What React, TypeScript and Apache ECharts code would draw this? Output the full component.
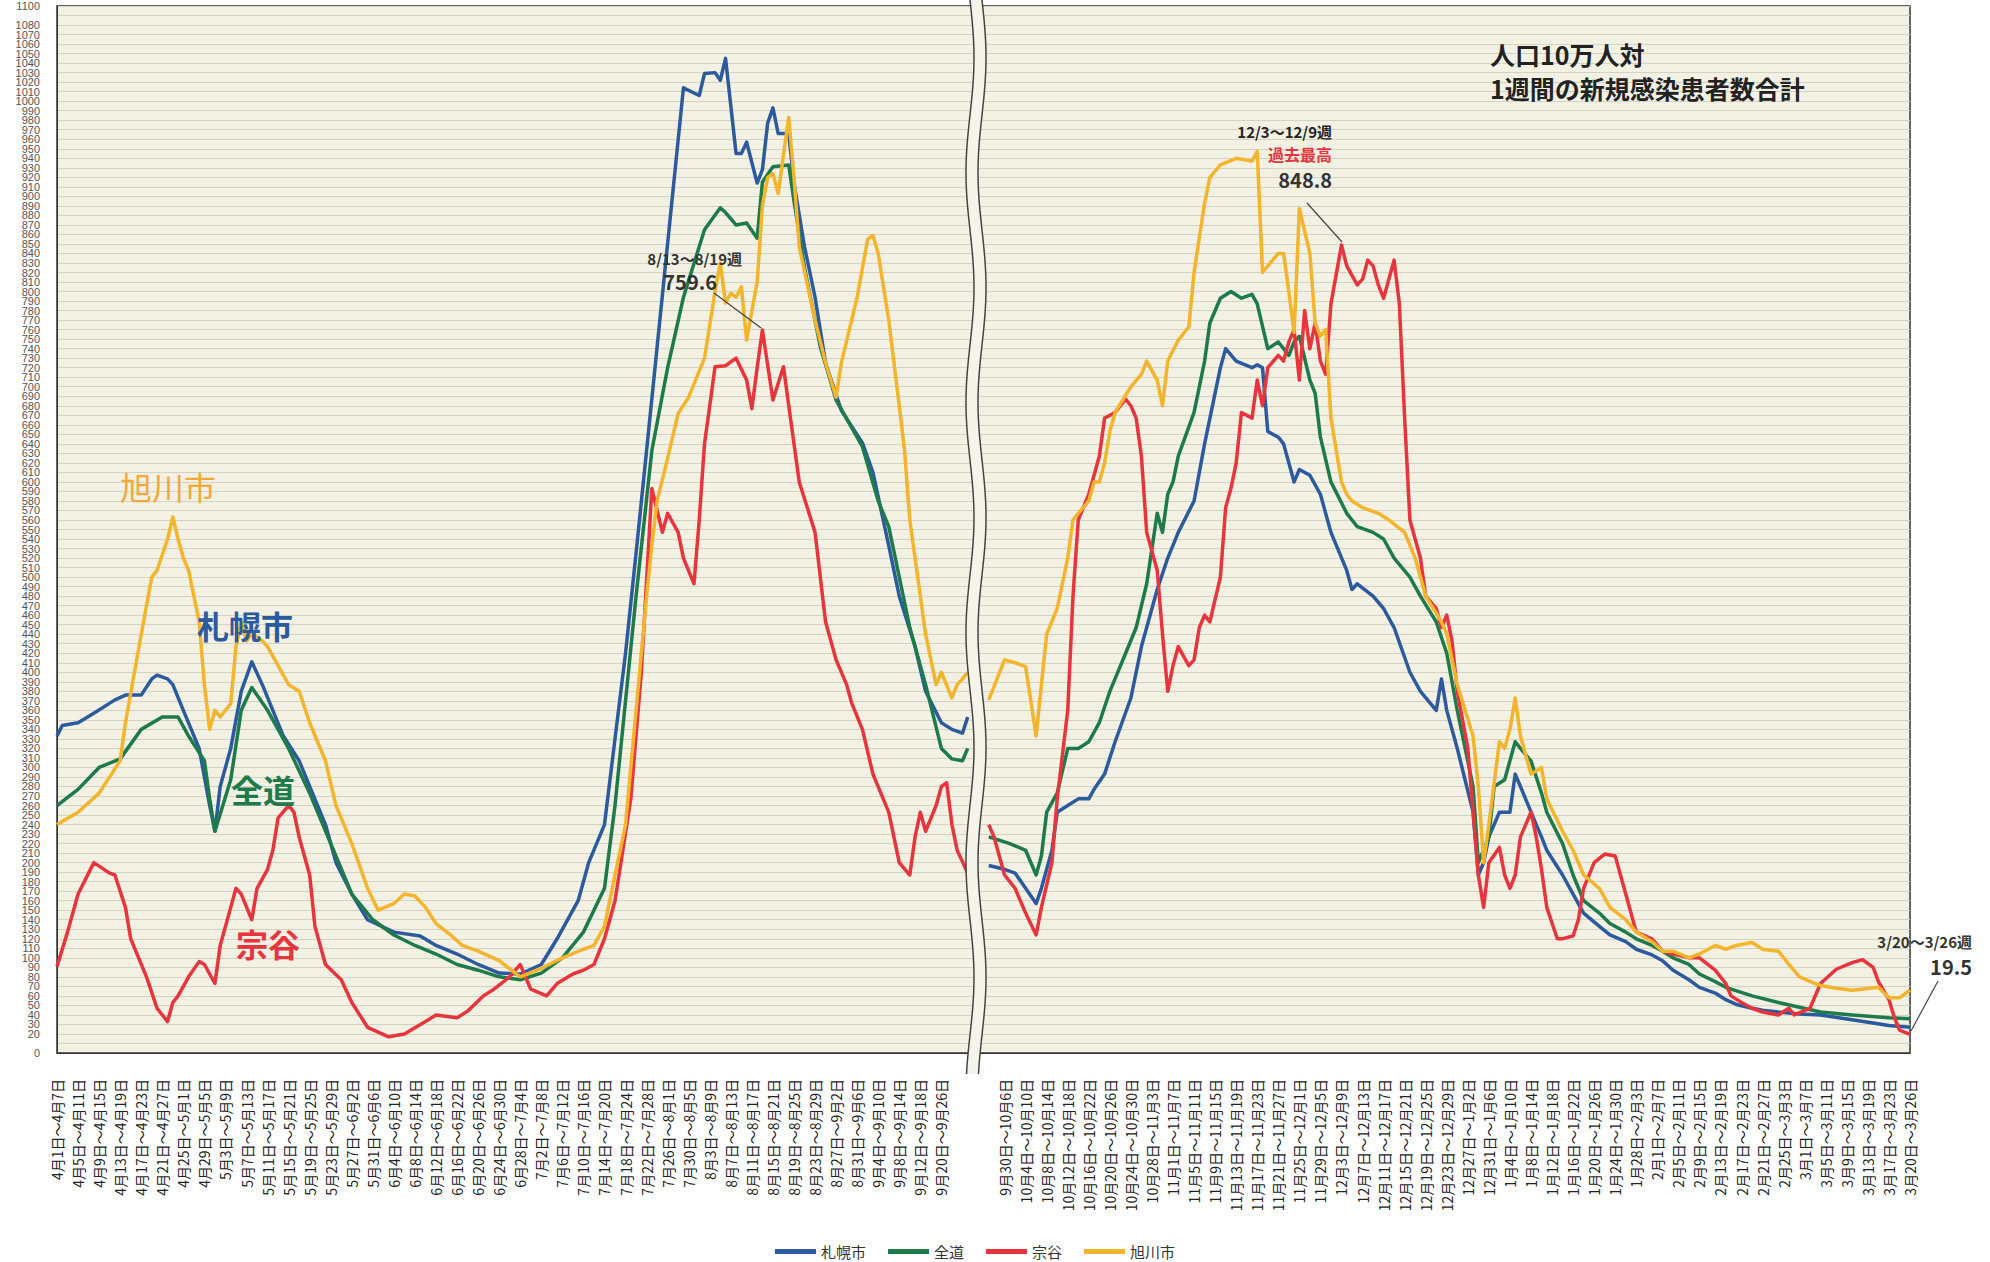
import React, { useEffect, useRef } from "react";
import * as echarts from "echarts";

// Tick labels (weekly windows, one label every 4 categories)
const labelsA = [
  "4月1日～4月7日", "4月5日～4月11日", "4月9日～4月15日", "4月13日～4月19日", "4月17日～4月23日",
  "4月21日～4月27日", "4月25日～5月1日", "4月29日～5月5日", "5月3日～5月9日", "5月7日～5月13日",
  "5月11日～5月17日", "5月15日～5月21日", "5月19日～5月25日", "5月23日～5月29日", "5月27日～6月2日",
  "5月31日～6月6日", "6月4日～6月10日", "6月8日～6月14日", "6月12日～6月18日", "6月16日～6月22日",
  "6月20日～6月26日", "6月24日～6月30日", "6月28日～7月4日", "7月2日～7月8日", "7月6日～7月12日",
  "7月10日～7月16日", "7月14日～7月20日", "7月18日～7月24日", "7月22日～7月28日", "7月26日～8月1日",
  "7月30日～8月5日", "8月3日～8月9日", "8月7日～8月13日", "8月11日～8月17日", "8月15日～8月21日",
  "8月19日～8月25日", "8月23日～8月29日", "8月27日～9月2日", "8月31日～9月6日", "9月4日～9月10日",
  "9月8日～9月14日", "9月12日～9月18日", "9月20日～9月26日",
];
const labelsB = [
  "9月30日～10月6日", "10月4日～10月10日", "10月8日～10月14日", "10月12日～10月18日", "10月16日～10月22日",
  "10月20日～10月26日", "10月24日～10月30日", "10月28日～11月3日", "11月1日～11月7日", "11月5日～11月11日",
  "11月9日～11月15日", "11月13日～11月19日", "11月17日～11月23日", "11月21日～11月27日", "11月25日～12月1日",
  "11月29日～12月5日", "12月3日～12月9日", "12月7日～12月13日", "12月11日～12月17日", "12月15日～12月21日",
  "12月19日～12月25日", "12月23日～12月29日", "12月27日～1月2日", "12月31日～1月6日", "1月4日～1月10日",
  "1月8日～1月14日", "1月12日～1月18日", "1月16日～1月22日", "1月20日～1月26日", "1月24日～1月30日",
  "1月28日～2月3日", "2月1日～2月7日", "2月5日～2月11日", "2月9日～2月15日", "2月13日～2月19日",
  "2月17日～2月23日", "2月21日～2月27日", "2月25日～3月3日", "3月1日～3月7日", "3月5日～3月11日",
  "3月9日～3月15日", "3月13日～3月19日", "3月17日～3月23日", "3月20日～3月26日",
];
const GAP_SLOTS = 2; // unlabeled label-slots at the axis break

const seriesNames = ["札幌市", "全道", "宗谷", "旭川市"];
const seriesColors = ["#2c5a9e", "#1d7a4b", "#e8353d", "#f4b42c"];

// [category index, value] — first period (before the break)
const sapporoA = [
  [0, 333], [1, 344], [4, 347], [7, 357], [11, 371], [13, 376], [16, 376], [18, 393], [19, 397], [21, 393], [22, 387],
  [24, 360], [27, 320], [29, 260], [30, 233], [31, 280], [33, 320], [35, 380], [37, 411], [39, 387], [41, 360],
  [43, 333], [46, 307], [48, 280], [51, 240], [53, 200], [56, 167], [59, 140], [64, 127], [69, 123], [72, 113],
  [76, 104], [80, 93], [84, 84], [88, 83], [92, 93], [95, 120], [99, 160], [101, 200], [104, 240], [106, 330],
  [108, 420], [110, 525], [112, 633], [119, 1014], [122, 1006], [123, 1029], [125, 1030], [126, 1022], [127, 1045],
  [129, 945], [130, 945], [131, 957], [133, 914], [134, 928], [135, 977], [136, 993], [137, 966], [139, 966],
  [140, 914], [142, 847], [144, 794], [146, 725], [149, 675], [153, 641], [155, 610], [158, 533], [160, 480],
  [163, 427], [165, 380], [168, 347], [170, 340], [172, 336], [173, 353],
];
const zendoA = [
  [0, 260], [4, 277], [8, 300], [12, 309], [16, 340], [20, 353], [23, 353], [25, 333], [28, 307], [29, 267], [30, 233],
  [33, 287], [35, 360], [37, 384], [40, 360], [44, 320], [48, 273], [52, 220], [56, 167], [60, 140], [64, 124],
  [68, 113], [72, 104], [76, 93], [80, 87], [84, 80], [88, 77], [92, 84], [96, 100], [100, 127], [104, 173],
  [106, 260], [108, 370], [110, 480], [113, 633], [116, 720], [119, 794], [123, 865], [126, 888], [127, 883],
  [129, 870], [131, 872], [133, 856], [134, 915], [136, 931], [139, 933], [140, 895], [142, 825], [145, 742],
  [148, 686], [153, 637], [156, 580], [158, 553], [160, 500], [162, 447], [165, 387], [168, 320], [170, 309],
  [172, 307], [173, 320],
];
const soyaA = [
  [0, 91], [2, 127], [4, 167], [6, 189], [7, 200], [10, 189], [11, 187], [13, 153], [14, 120], [17, 80], [19, 47],
  [21, 33], [22, 53], [23, 60], [25, 80], [27, 96], [28, 93], [30, 73], [31, 113], [33, 153], [34, 173], [35, 167],
  [37, 140], [38, 173], [40, 193], [41, 213], [42, 247], [44, 260], [45, 253], [46, 227], [48, 187], [49, 133],
  [51, 93], [54, 77], [56, 53], [59, 27], [63, 17], [66, 20], [70, 33], [72, 40], [76, 37], [78, 44], [81, 60],
  [83, 67], [86, 80], [88, 93], [90, 67], [93, 60], [95, 73], [98, 83], [100, 87], [102, 93], [104, 120], [106, 160],
  [109, 267], [111, 400], [113, 593], [115, 547], [116, 567], [118, 547], [119, 520], [121, 493], [122, 560],
  [123, 640], [124, 680], [125, 721], [127, 722], [129, 730], [131, 707], [132, 677], [133, 720], [134, 759.6],
  [136, 686], [138, 721], [140, 640], [141, 600], [144, 547], [146, 453], [148, 413], [150, 387], [151, 367],
  [153, 340], [155, 293], [158, 253], [160, 200], [162, 187], [163, 227], [164, 253], [165, 233], [167, 260],
  [168, 280], [169, 284], [170, 240], [171, 213], [173, 189],
];
const asahikawaA = [
  [0, 240], [4, 253], [8, 273], [12, 307], [13, 347], [16, 440], [18, 500], [19, 507], [21, 540], [22, 563], [23, 540],
  [24, 520], [25, 507], [27, 453], [28, 387], [29, 340], [30, 360], [31, 353], [33, 367], [34, 427], [35, 453],
  [36, 433], [37, 440], [39, 433], [40, 427], [42, 407], [44, 387], [46, 380], [48, 347], [51, 307], [53, 260],
  [56, 220], [59, 173], [61, 150], [64, 157], [66, 167], [68, 165], [70, 153], [72, 136], [75, 123], [77, 113],
  [80, 107], [84, 97], [88, 80], [92, 89], [96, 100], [100, 109], [102, 113], [104, 133], [106, 187], [108, 240],
  [110, 360], [112, 480], [113, 533], [114, 580], [116, 625], [118, 672], [120, 689], [123, 730], [125, 800],
  [126, 830], [127, 788], [128, 798], [129, 794], [130, 805], [131, 749], [133, 810], [134, 890], [135, 920],
  [136, 924], [137, 903], [139, 983], [140, 920], [141, 847], [144, 770], [146, 725], [148, 689], [149, 725],
  [152, 794], [154, 855], [155, 859], [156, 840], [158, 770], [160, 680], [161, 633], [162, 560], [165, 440],
  [167, 387], [168, 400], [170, 373], [171, 387], [172, 393], [173, 400],
];

// second period (after the break)
const sapporoB = [
  [177, 197], [180, 193], [182, 189], [184, 173], [186, 157], [187, 173], [189, 213], [190, 253], [192, 260],
  [194, 267], [196, 267], [197, 277], [199, 293], [201, 327], [204, 373], [206, 427], [209, 487], [211, 520],
  [213, 547], [216, 580], [218, 640], [221, 720], [222, 740], [224, 727], [227, 720], [228, 723], [229, 720],
  [230, 653], [232, 647], [233, 640], [234, 620], [235, 600], [236, 613], [238, 607], [240, 587], [242, 547],
  [245, 507], [246, 487], [247, 493], [250, 480], [252, 467], [254, 447], [257, 400], [259, 380], [262, 360],
  [263, 393], [264, 360], [266, 320], [269, 253], [270, 187], [271, 200], [272, 227], [274, 253], [276, 253],
  [277, 293], [278, 280], [281, 240], [282, 227], [283, 213], [286, 187], [288, 167], [290, 147], [293, 133],
  [295, 124], [298, 117], [300, 109], [303, 103], [305, 97], [307, 87], [310, 77], [312, 69], [315, 63], [317, 56],
  [319, 51], [322, 47], [324, 45], [327, 43], [331, 41], [335, 40], [341, 35], [348, 29], [352, 27],
];
const zendoB = [
  [177, 227], [181, 220], [184, 213], [186, 187], [187, 207], [188, 253], [190, 273], [192, 320], [194, 320],
  [196, 327], [198, 347], [200, 380], [203, 420], [205, 447], [207, 493], [209, 567], [210, 547], [211, 587],
  [212, 600], [213, 627], [216, 673], [218, 727], [219, 767], [221, 793], [223, 800], [225, 793], [227, 797],
  [228, 787], [230, 740], [232, 747], [233, 740], [234, 733], [235, 747], [236, 753], [238, 707], [239, 693],
  [240, 647], [242, 600], [245, 567], [247, 553], [250, 547], [252, 540], [254, 520], [257, 500], [259, 480],
  [262, 453], [264, 420], [266, 360], [269, 280], [270, 200], [272, 227], [273, 280], [275, 287], [277, 327],
  [278, 320], [280, 307], [282, 273], [283, 253], [286, 220], [288, 187], [290, 160], [293, 147], [295, 136],
  [298, 127], [300, 120], [303, 113], [305, 107], [307, 100], [310, 93], [312, 83], [315, 75], [317, 69], [322, 60],
  [327, 53], [331, 48], [335, 43], [341, 40], [348, 37], [352, 36],
];
const soyaB = [
  [177, 240], [178, 227], [180, 187], [182, 173], [184, 147], [186, 124], [187, 153], [189, 200], [190, 267],
  [192, 360], [193, 480], [194, 560], [196, 587], [197, 607], [198, 627], [199, 667], [201, 673], [203, 687],
  [204, 680], [205, 667], [206, 627], [207, 547], [209, 507], [210, 440], [211, 380], [212, 407], [213, 427],
  [215, 407], [216, 413], [217, 447], [218, 460], [219, 453], [221, 500], [222, 573], [223, 593], [224, 620],
  [225, 673], [227, 667], [228, 707], [229, 680], [230, 720], [232, 733], [233, 727], [234, 747], [235, 760],
  [236, 707], [237, 780], [238, 740], [239, 767], [240, 727], [241, 713], [242, 787], [244, 848.8], [245, 827],
  [247, 807], [248, 813], [249, 833], [250, 827], [251, 807], [252, 793], [254, 833], [255, 787], [256, 667],
  [257, 560], [259, 520], [260, 480], [262, 467], [263, 447], [264, 460], [265, 433], [266, 380], [268, 320],
  [269, 253], [270, 187], [271, 153], [272, 200], [274, 216], [275, 187], [276, 173], [277, 187], [278, 227],
  [280, 253], [281, 227], [282, 193], [283, 153], [285, 120], [286, 120], [288, 123], [289, 140], [290, 173],
  [292, 200], [294, 209], [296, 207], [297, 187], [299, 147], [300, 127], [303, 120], [305, 107], [307, 104],
  [310, 100], [312, 100], [315, 87], [316, 80], [317, 73], [318, 60], [320, 53], [322, 47], [324, 43], [327, 40],
  [329, 47], [330, 40], [333, 47], [335, 73], [338, 88], [341, 95], [343, 98], [345, 90], [346, 75], [348, 56],
  [349, 38], [350, 24], [352, 19.5],
];
const asahikawaB = [
  [177, 371], [180, 413], [182, 410], [184, 406], [186, 333], [187, 387], [188, 440], [190, 467], [192, 520],
  [193, 560], [194, 567], [196, 580], [197, 600], [198, 600], [199, 620], [200, 653], [201, 673], [204, 700],
  [206, 713], [207, 727], [209, 707], [210, 680], [211, 727], [213, 749], [215, 763], [216, 820], [218, 893],
  [219, 920], [221, 933], [224, 940], [227, 937], [228, 947], [229, 820], [230, 827], [232, 840], [233, 840],
  [234, 800], [235, 757], [236, 887], [238, 840], [239, 767], [240, 753], [241, 760], [242, 667], [244, 600],
  [245, 587], [246, 580], [248, 573], [251, 567], [253, 560], [256, 547], [258, 520], [260, 480], [263, 453],
  [264, 440], [266, 387], [269, 333], [270, 280], [271, 200], [272, 240], [274, 327], [275, 320], [276, 340],
  [277, 373], [278, 333], [280, 293], [282, 300], [283, 267], [286, 233], [288, 213], [290, 187], [293, 173],
  [295, 153], [298, 140], [300, 127], [303, 117], [305, 107], [307, 107], [310, 100], [312, 104], [315, 113],
  [317, 109], [319, 113], [322, 116], [324, 109], [327, 107], [329, 93], [331, 80], [334, 73], [335, 71], [338, 68],
  [341, 66], [346, 69], [348, 58], [350, 58], [352, 66],
];

const BG = "#f2f1e4";
const FONT = "'Noto Sans CJK JP', 'Noto Sans', sans-serif";

export default function App() {
  const ref = useRef<HTMLDivElement>(null);
  useEffect(() => {
    document.body.style.margin = "0";
    const chart = echarts.init(ref.current!, null, { renderer: "svg" });

    const labelAt = new Map<number, string>();
    labelsA.forEach((l, k) => labelAt.set(4 * k, l));
    labelsB.forEach((l, k) => labelAt.set(4 * (labelsA.length + GAP_SLOTS + k), l));
    const total = (labelsA.length + GAP_SLOTS + labelsB.length - 1) * 4 + 1;
    const cats: string[] = [];
    for (let i = 0; i < total; i++) cats.push(labelAt.get(i) ?? "c" + i);

    const parts = [
      [sapporoA, sapporoB],
      [zendoA, zendoB],
      [soyaA, soyaB],
      [asahikawaA, asahikawaB],
    ];
    const series: any[] = [];
    parts.forEach((pair, s) => {
      pair.forEach((d) => {
        series.push({
          type: "line",
          name: seriesNames[s],
          data: d,
          symbol: "none",
          showSymbol: false,
          lineStyle: { color: seriesColors[s], width: 3.5, join: "round" },
          itemStyle: { color: seriesColors[s] },
          z: 3 + s,
        });
      });
    });

    // axis-break double wavy line
    const wave = (cx: number, phase: number) => {
      const pts: number[][] = [];
      for (let y = 0; y <= 1078; y += 6) {
        pts.push([cx + 4 * Math.sin((y / 230) * 2 * Math.PI + phase), y]);
      }
      return pts;
    };
    const w1 = wave(970, 0);
    const w2 = wave(982, 0);
    const band = w1.concat(w2.slice().reverse());

    const txt = (text: string, x: number, y: number, size: number, color: string, weight: any, align = "left") => ({
      type: "text",
      x,
      y,
      z: 120,
      silent: true,
      style: {
        text,
        fill: color,
        font: `${weight} ${size}px ${FONT}`,
        textAlign: align,
        textVerticalAlign: "middle",
        verticalAlign: "middle",
      },
    });
    const leader = (x1: number, y1: number, x2: number, y2: number) => ({
      type: "line",
      z: 120,
      silent: true,
      shape: { x1, y1, x2, y2 },
      style: { stroke: "#444", lineWidth: 1.2 },
    });

    chart.setOption({
      animation: false,
      backgroundColor: "#ffffff",
      textStyle: { fontFamily: FONT },
      grid: {
        left: 57,
        top: 6,
        width: 1853,
        height: 1047,
        show: true,
        backgroundColor: BG,
        borderColor: "#333",
        borderWidth: 1.5,
        containLabel: false,
      },
      legend: {
        data: seriesNames,
        left: 770,
        top: 1239,
        icon: "rect",
        itemWidth: 41,
        itemHeight: 5,
        itemGap: 22,
        textStyle: { fontSize: 15, color: "#333", fontFamily: FONT },
      },
      xAxis: {
        type: "category",
        data: cats,
        boundaryGap: false,
        axisLine: { show: true, lineStyle: { color: "#333" } },
        axisTick: { show: false },
        splitLine: { show: false },
        axisLabel: {
          rotate: 90,
          margin: 26,
          fontSize: 14,
          color: "#222",
          fontFamily: FONT,
          interval: (i: number) => labelAt.has(i),
          formatter: (v: string) => (v.startsWith("c") ? "" : v),
        },
      },
      yAxis: {
        type: "value",
        min: 0,
        max: 1100,
        interval: 10,
        axisLine: { show: true, lineStyle: { color: "#333" } },
        axisTick: { show: false },
        axisLabel: {
          fontSize: 11,
          color: "#555",
          margin: 17,
          showMinLabel: true,
          showMaxLabel: true,
          hideOverlap: false,
          fontFamily: "'Liberation Sans', sans-serif",
          formatter: (v: number) => String(v),
        },
        splitLine: { show: true, lineStyle: { color: "#d3d2c3", width: 1 } },
      },
      series,
      graphic: [
        { type: "polygon", z: 110, silent: true, shape: { points: band }, style: { fill: "#f5f4ea" } },
        { type: "polyline", z: 111, silent: true, shape: { points: w1 }, style: { stroke: "#444", lineWidth: 1.5, fill: "none" } },
        { type: "polyline", z: 111, silent: true, shape: { points: w2 }, style: { stroke: "#444", lineWidth: 1.5, fill: "none" } },
        txt("人口10万人対", 1490, 54, 25, "#222", "bold"),
        txt("1週間の新規感染患者数合計", 1490, 88, 25, "#222", "bold"),
        txt("旭川市", 120, 486, 32, "#f2a93a", "normal"),
        txt("札幌市", 197, 625, 32, seriesColors[0], "bold"),
        txt("全道", 231, 789, 32, seriesColors[1], "bold"),
        txt("宗谷", 236, 943, 32, seriesColors[2], "bold"),
        txt("8/13～8/19週", 742, 258, 15, "#333", "bold", "right"),
        txt("759.6", 717, 281, 20, "#333", "bold", "right"),
        leader(714, 293, 761, 328),
        txt("12/3～12/9週", 1332, 131, 15, "#222", "bold", "right"),
        txt("過去最高", 1332, 154, 16, "#e8353d", "bold", "right"),
        txt("848.8", 1332, 179, 20, "#333", "bold", "right"),
        leader(1307, 203, 1342, 242),
        txt("3/20～3/26週", 1972, 941, 15, "#333", "bold", "right"),
        txt("19.5", 1972, 966, 20, "#333", "bold", "right"),
        leader(1938, 981, 1911, 1031),
      ],
    });
    return () => chart.dispose();
  }, []);
  return <div ref={ref} style={{ width: 1990, height: 1262 }} />;
}
